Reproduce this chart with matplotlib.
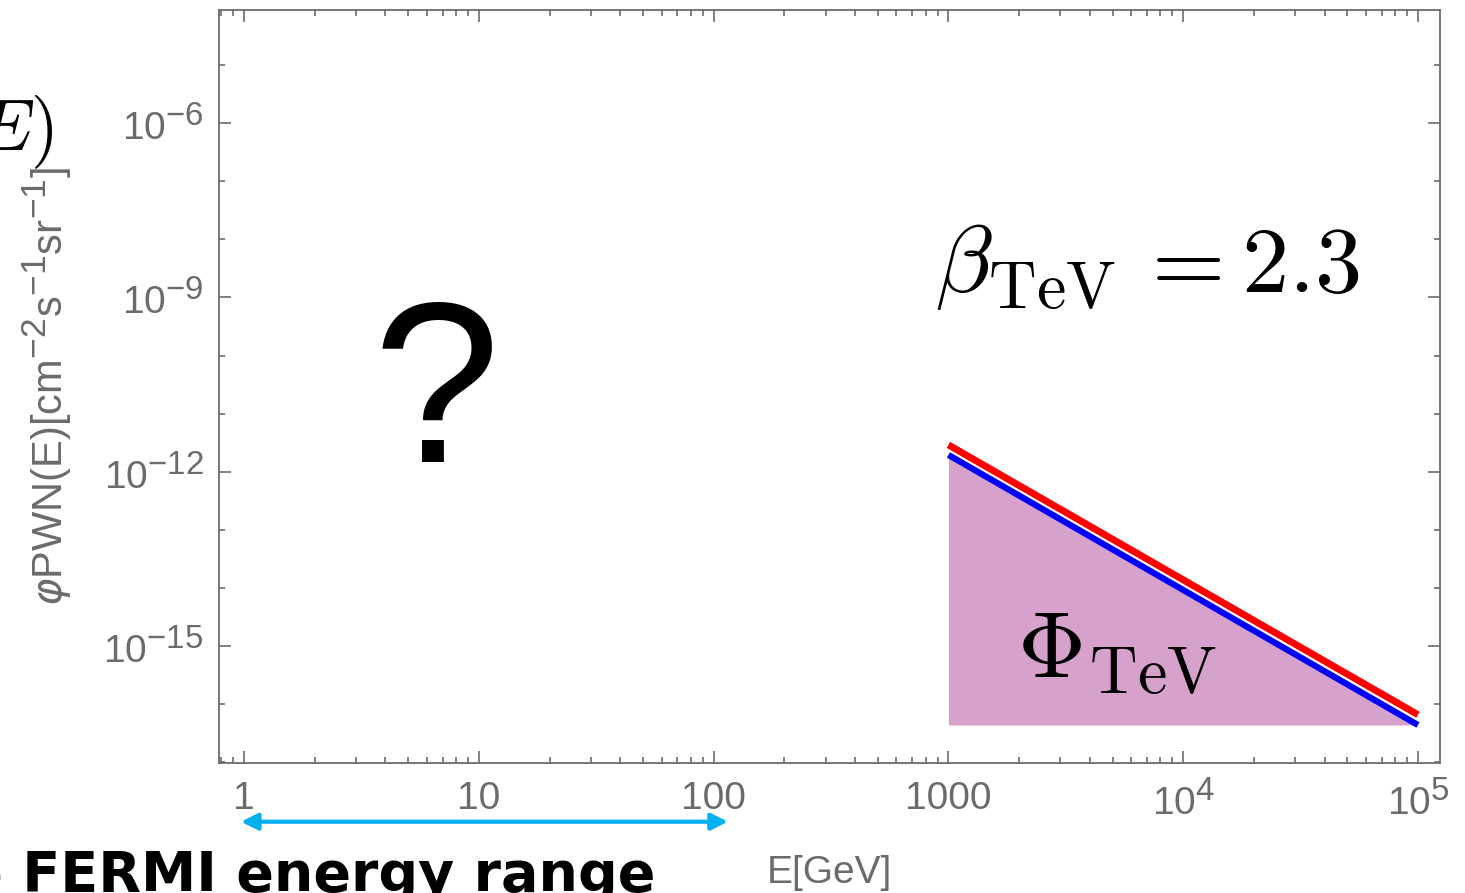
import numpy as np
import matplotlib
matplotlib.use('Agg')
import matplotlib.pyplot as plt
import matplotlib._mathtext as mathtext_impl
from matplotlib import ticker
from matplotlib.text import Text
from matplotlib.transforms import blended_transform_factory

# power-law spectra above 1 TeV (GeV, cm^-2 s^-1 sr^-1)
energy = [1000, 1e5]
flux_red = [2.9e-12, 6.6e-17]
flux_blue = [1.95e-12, 4.4e-17]

# FERMI band drawn under the x axis (GeV)
fermi_band = [0.97, 115]

xtick_values = [1, 10, 100, 1000, 1e4, 1e5]
xtick_labels = ['1', '10', '100', '1000', r'$10^4$', r'$10^5$']
ytick_exponents = [-15, -12, -9, -6]

gray = '#6b6b6b'
plt.rcParams['font.family'] = ['Liberation Sans', 'DejaVu Sans']
plt.rcParams['mathtext.fontset'] = 'custom'
plt.rcParams['mathtext.rm'] = 'Liberation Sans'
plt.rcParams['mathtext.it'] = 'DejaVu Sans:italic'

# larger exponents for the axis labels
mathtext_impl.SHRINK_FACTOR = 0.85


class TexText(Text):
    """Computer Modern text that keeps the usual TeX script size."""
    def draw(self, renderer):
        old = mathtext_impl.SHRINK_FACTOR
        mathtext_impl.SHRINK_FACTOR = 0.7
        try:
            super().draw(renderer)
        finally:
            mathtext_impl.SHRINK_FACTOR = old


fig = plt.figure(figsize=(14.65, 8.93), dpi=100)
ax = fig.add_axes([0.1495, 0.1456, 0.8335, 0.8432])

ax.set_xscale('log')
ax.set_yscale('log')
ax.set_xlim(0.782, 1.242e5)
ax.set_ylim(10 ** -17.01, 10 ** -4.055)

# shaded integral under the lower spectrum
ax.fill_between(energy, flux_blue, [flux_blue[-1]] * len(energy),
                color='#d6a2cb', linewidth=0, zorder=1)
ax.plot(energy, flux_red, color='#ff0000', lw=5.0, solid_capstyle='butt', zorder=3)
ax.plot(energy, flux_blue, color='#0000ff', lw=4.5, solid_capstyle='butt', zorder=3)

# axes frame and ticks, all four sides, pointing inward
for sp in ax.spines.values():
    sp.set_color(gray)
    sp.set_linewidth(1.3)

ax.xaxis.set_major_locator(ticker.FixedLocator(xtick_values))
ax.xaxis.set_major_formatter(ticker.FixedFormatter(xtick_labels))
ax.xaxis.set_minor_locator(ticker.LogLocator(base=10, subs=np.arange(2, 10), numticks=20))
ax.xaxis.set_minor_formatter(ticker.NullFormatter())

ax.yaxis.set_major_locator(ticker.FixedLocator([10.0 ** e for e in ytick_exponents]))
ax.yaxis.set_major_formatter(ticker.FixedFormatter([r'$10^{%d}$' % e for e in ytick_exponents]))
ax.yaxis.set_minor_locator(ticker.LogLocator(base=10, subs=[1.0], numticks=30))
ax.yaxis.set_minor_formatter(ticker.NullFormatter())

ax.tick_params(which='both', direction='in', top=True, right=True,
               color=gray, width=1.2, labelcolor=gray, labelsize=28)
ax.tick_params(which='major', length=8.5)
ax.tick_params(which='minor', length=4.3)
ax.tick_params(axis='x', which='major', pad=13)
ax.tick_params(axis='y', which='major', pad=11)

ax.set_ylabel(r'$\varphi$PWN(E)[cm$^{-2}$s$^{-1}$sr$^{-1}$]', color=gray, fontsize=30)
ax.yaxis.set_label_coords(-0.119, 0.5)
ax.set_xlabel('E[GeV]', color=gray, fontsize=28, va='top')
ax.xaxis.set_label_coords(0.5, -0.122)

# annotations
ax.add_artist(TexText(880, 1.23e-9, r'$\beta_{\rm TeV}\,=2.3$', math_fontfamily='cm',
                      fontsize=68, ha='left', va='baseline', color='black', zorder=4))
ax.add_artist(TexText(1950, 3.0e-16, r'$\Phi_{\rm TeV}$', math_fontfamily='cm',
                      fontsize=68, ha='left', va='baseline', color='black', zorder=4))
ax.text(6.6, 1.5e-12, '?', family='Liberation Sans',
        fontsize=165, ha='center', va='baseline', color='black')

trans = blended_transform_factory(ax.transData, ax.transAxes)
ax.annotate('', xy=(fermi_band[0], -0.078), xytext=(fermi_band[1], -0.078),
            xycoords=trans, textcoords=trans, annotation_clip=False,
            arrowprops=dict(arrowstyle='<|-|>,head_length=1.0,head_width=0.5',
                            color='#00b0f0', lw=3, shrinkA=0, shrinkB=0))

fig.text(53 / 1465, 1 - 150 / 893, r'$\Phi(E)$', math_fontfamily='cm',
         fontsize=52, ha='right', va='baseline', color='black')
fig.text(655 / 1465, 1 - 891 / 893, 'The FERMI energy range', family='DejaVu Sans',
         fontweight='bold', fontsize=40, ha='right', va='baseline', color='black')

fig.savefig('out.png', dpi=100)
